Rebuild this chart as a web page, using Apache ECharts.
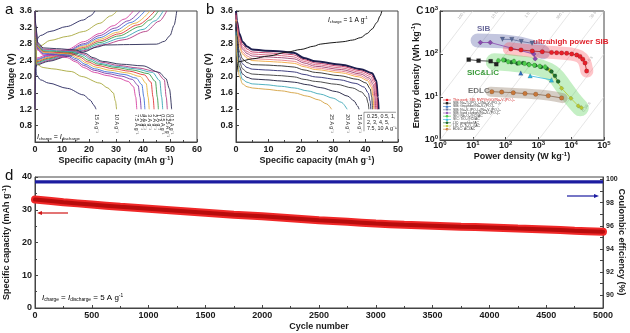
<!DOCTYPE html>
<html><head><meta charset="utf-8">
<script src="https://cdn.jsdelivr.net/npm/echarts@6/dist/echarts.min.js"></script>
<style>html,body{margin:0;padding:0;background:#fff}#main{width:630px;height:333px}</style>
</head><body><div id="main"></div><script>
// ---------- panel a: rate capability, I_charge = I_discharge ----------
const ratesA = ['15', '10', '7.5', '5', '4', '3', '2', '1', '0.5', '0.25', '0.1'];
const colorsA = ['#26265e', '#a8a83c', '#d63fa0', '#7b3aa8', '#3f6fd6', '#e6b43c', '#e03838', '#3c9c4a', '#35a5b5', '#b23a82', '#2a2a55'];
const dischargeA = [
  [[0,3.6],[0.2,2.6],[0.5,2.04],[2,1.92],[5,1.84],[12,1.71],[18,1.55],[20.5,1.42],[21.8,1.3],[22.6,1.2]],
  [[0,3.6],[0.2,2.8],[0.6,2.3],[3,2.22],[6,2.19],[13.6,2.12],[17.3,2.0],[24,1.84],[27,1.72],[29,1.6],[29.8,1.4],[30.2,1.2]],
  [[0,3.6],[0.3,3.0],[1,2.65],[3,2.52],[8,2.5],[12,2.46],[15,2.36],[18,2.22],[22,2.1],[27,2.02],[31,1.96],[34.5,1.88],[36.5,1.75],[37.3,1.5],[37.7,1.2]],
  [[0,3.6],[0.3,3.05],[1,2.68],[3,2.55],[8,2.53],[12,2.5],[15,2.4],[18,2.27],[22,2.15],[27,2.07],[32,2.01],[36,1.93],[38.2,1.78],[38.9,1.5],[39.3,1.2]],
  [[0,3.6],[0.3,3.1],[1,2.7],[3,2.57],[8,2.55],[12,2.53],[15.5,2.43],[18.5,2.3],[22,2.19],[27,2.11],[33,2.05],[37.5,1.96],[39.6,1.8],[40.3,1.5],[40.7,1.2]],
  [[0,3.6],[0.3,3.12],[1,2.72],[3,2.59],[8,2.57],[12.5,2.55],[16,2.45],[19,2.33],[22.5,2.23],[28,2.15],[34,2.09],[39,2.0],[41.2,1.83],[41.9,1.5],[42.3,1.2]],
  [[0,3.6],[0.3,3.15],[1,2.74],[3,2.61],[8,2.59],[13,2.57],[16.5,2.48],[19.5,2.36],[23,2.27],[29,2.19],[35,2.13],[40.5,2.04],[43,1.86],[43.7,1.5],[44.1,1.2]],
  [[0,3.6],[0.3,3.18],[1,2.76],[3,2.63],[8,2.61],[13.5,2.59],[17,2.5],[20,2.39],[23.5,2.3],[30,2.22],[36,2.16],[42,2.07],[44.6,1.88],[45.3,1.5],[45.7,1.2]],
  [[0,3.6],[0.3,3.2],[1,2.78],[3,2.65],[8,2.63],[14,2.61],[17.5,2.53],[20.5,2.42],[24,2.32],[30,2.25],[37,2.19],[43.5,2.1],[46.2,1.9],[46.9,1.5],[47.3,1.2]],
  [[0,3.6],[0.3,3.22],[1,2.8],[3,2.67],[8,2.65],[14.5,2.63],[18,2.55],[21,2.44],[24.5,2.35],[31,2.27],[38,2.21],[45,2.12],[47.9,1.92],[48.6,1.5],[49,1.2]],
  [[0,3.6],[0.3,3.25],[1,2.83],[3,2.7],[8,2.68],[15,2.65],[18.5,2.57],[21.5,2.46],[25,2.37],[32,2.3],[40,2.26],[46,2.1],[48.5,1.95],[49.8,1.7],[50.6,1.2]]
];
const chargeA = [
  [[0,1.2],[0.2,2.3],[0.5,2.9],[2,3.0],[5.5,3.1],[11.7,3.22],[17.9,3.38],[20.5,3.48],[22.2,3.6]],
  [[0,1.2],[0.2,2.3],[0.5,2.62],[2,2.75],[5.5,2.88],[12,2.98],[18,3.1],[24,3.3],[28,3.48],[30.4,3.6]],
  [[0,1.2],[0.2,2.3],[0.5,2.45],[5,2.54],[12,2.66],[18,2.85],[24,3.05],[29,3.24],[33,3.4],[36.4,3.6]],
  [[0,1.2],[0.2,2.28],[0.5,2.42],[5,2.51],[12,2.63],[18,2.8],[24,3.0],[29.5,3.18],[34.5,3.36],[38.9,3.6]],
  [[0,1.2],[0.2,2.27],[0.5,2.4],[5,2.49],[12,2.61],[18,2.77],[24,2.95],[30,3.13],[35.5,3.32],[40.7,3.6]],
  [[0,1.2],[0.2,2.26],[0.5,2.38],[5,2.47],[12,2.59],[18,2.74],[24,2.91],[30.5,3.08],[37,3.3],[42.6,3.6]],
  [[0,1.2],[0.2,2.25],[0.5,2.36],[5,2.45],[12,2.57],[18,2.71],[24,2.87],[31,3.04],[38,3.26],[44.4,3.6]],
  [[0,1.2],[0.2,2.24],[0.5,2.34],[5,2.43],[12,2.55],[18,2.68],[24,2.83],[31,2.99],[39,3.22],[42.5,3.38],[45.7,3.6]],
  [[0,1.2],[0.2,2.23],[0.5,2.32],[5,2.41],[12,2.53],[18,2.65],[24,2.79],[32,2.94],[40,3.15],[44.5,3.36],[47.5,3.6]],
  [[0,1.2],[0.2,2.22],[0.5,2.3],[5,2.39],[12,2.51],[18,2.63],[25,2.77],[33,2.9],[41,3.1],[46,3.35],[48.8,3.6]],
  [[0,1.2],[0.2,2.2],[0.5,2.28],[5,2.37],[12,2.49],[18,2.6],[23,2.72],[26,2.77],[35,2.78],[45,2.79],[48,2.86],[50,3.0],[51.5,3.25],[52.5,3.6]]
];

// ---------- panel b: discharge at various rates, charge at 1 A/g ----------
const ratesB = ['0.25', '0.5', '1', '2', '3', '4', '5', '7.5', '10', '15', '20', '25'];
const colorsB = ['#1e1e4e', '#c0305e', '#d8607e', '#a0406e', '#e87a88', '#f0a840', '#2a2a2a', '#2a2a70', '#3a3a3a', '#1c1c3c', '#40a8b8', '#d4a040'];
const dischargeB = [
  [[0,3.6],[0.3,3.35],[1,3.05],[2,2.85],[3.4,2.73],[5,2.66],[9,2.63],[14,2.61],[17.8,2.58],[21,2.45],[24.5,2.37],[32.5,2.29],[38.5,2.18],[42,2.08],[43.3,1.9],[43.8,1.5],[44,1.2]],
  [[0,3.55],[0.3,3.3],[1,2.98],[2,2.78],[3.4,2.67],[5,2.6],[9,2.58],[14,2.56],[17.8,2.53],[21,2.41],[24.5,2.33],[32.5,2.25],[38.5,2.14],[41.8,2.04],[43,1.86],[43.5,1.5],[43.7,1.2]],
  [[0,3.5],[0.3,3.25],[1,2.92],[2,2.72],[3.4,2.61],[5,2.55],[9,2.53],[14,2.51],[17.8,2.48],[21,2.37],[24.5,2.29],[32.5,2.21],[38.5,2.1],[41.5,2.0],[42.7,1.83],[43.2,1.5],[43.4,1.2]],
  [[0,3.45],[0.3,3.2],[1,2.87],[2,2.67],[3.4,2.56],[5,2.5],[9,2.48],[14,2.46],[18,2.43],[21,2.33],[24.5,2.25],[32.5,2.17],[38.5,2.06],[41.2,1.96],[42.4,1.8],[42.9,1.5],[43.1,1.2]],
  [[0,3.4],[0.3,3.15],[1,2.8],[2,2.6],[3.4,2.5],[5,2.44],[9,2.42],[14,2.4],[18,2.37],[21,2.28],[24.5,2.21],[32.5,2.13],[38,2.03],[40.9,1.93],[42.1,1.77],[42.6,1.5],[42.8,1.2]],
  [[0,3.38],[0.3,3.1],[1,2.74],[2,2.55],[3.4,2.45],[5,2.39],[9,2.37],[14,2.35],[18,2.32],[21,2.24],[24.5,2.17],[32.5,2.09],[38,1.99],[40.6,1.9],[41.8,1.74],[42.3,1.5],[42.5,1.2]],
  [[0,3.35],[0.3,3.0],[1,2.62],[2,2.43],[3.4,2.34],[5,2.29],[9,2.28],[14,2.26],[18,2.23],[21,2.16],[24.5,2.1],[32,2.02],[37.5,1.93],[40.2,1.84],[41.4,1.7],[41.9,1.5],[42.1,1.2]],
  [[0,3.3],[0.3,2.9],[1,2.5],[2,2.31],[3.4,2.22],[5,2.18],[9,2.16],[14,2.14],[18,2.11],[21,2.05],[24.5,1.99],[32,1.92],[37,1.83],[39.6,1.74],[40.8,1.6],[41.4,1.4],[41.6,1.2]],
  [[0,3.25],[0.3,2.8],[1,2.38],[2,2.19],[3.4,2.1],[5,2.06],[9,2.04],[14,2.02],[18,1.99],[21,1.93],[24.5,1.88],[31,1.81],[36,1.72],[38.8,1.62],[40.2,1.5],[40.8,1.35],[41,1.2]],
  [[0,3.2],[0.3,2.7],[1,2.25],[2,2.06],[3.4,1.98],[5,1.94],[9,1.92],[14,1.89],[18,1.86],[22,1.8],[26,1.73],[31,1.63],[34.5,1.52],[36.5,1.4],[37.5,1.28],[38,1.2]],
  [[0,3.1],[0.3,2.6],[1,2.15],[2,1.93],[3.4,1.86],[5,1.82],[9,1.8],[14,1.76],[18,1.72],[22,1.65],[26,1.57],[30,1.47],[32.5,1.37],[34.3,1.2]],
  [[0,3.0],[0.3,2.5],[1,2.02],[2,1.82],[3.4,1.75],[5,1.72],[9,1.69],[14,1.65],[18,1.6],[22,1.52],[25.5,1.43],[28,1.33],[29.5,1.2]]
];
const chargeB = [[0,1.2],[0.2,2.1],[0.7,2.36],[5,2.43],[10,2.5],[16,2.6],[20,2.66],[24,2.74],[26,2.79],[29,2.82],[33,2.85],[36,2.89],[38.5,2.95],[40.5,3.05],[42,3.16],[43.5,3.32],[44.5,3.48],[45,3.6]];

// ---------- panel c: Ragone plot ----------
const isoHours = [100, 10, 1, 0.1, 0.01, 0.001, 0.0001];
const isoNames = ['100 h', '10 h', '1 h', '360 s', '36 s', '3.6 s', '0.36 s'];
const ragThisWork = [[145,131],[295,124],[650,117],[1310,113],[2520,109],[3600,107],[5100,106],[7300,104],[10400,100],[14700,95],[18500,88],[22500,76],[26400,62],[29600,40]];
const ragNTP = [[7.5,74],[15,70],[35,68],[52,58]];
const ragGraphiteSIB = [[290,36]];
const ragNVP = [[80,220],[155,218],[300,195],[640,178]];
const ragHardCarbon = [[17,185],[34,185],[720,100],[800,78]];
const ragNb2O5 = [[60,70],[85,73],[120,66],[180,68],[260,62],[380,60],[520,56],[750,55],[1100,52],[1600,50]];
const ragTiO2 = [[560,31],[2500,25]];
const ragGraphiteLIC = [[95,72],[150,64],[230,60],[340,62],[500,58],[800,54],[1200,50],[1800,46],[2500,39],[3200,31],[4000,23]];
const ragLTO = [[2200,42],[5100,16],[9800,9.3],[16500,6.2],[20500,5.6]];
const ragEDLC = [[38,13.3],[76,13],[171,12.6],[390,12],[830,11.6],[2000,10.7],[5100,9.5]];
const bandSIB = [[14,205],[120,190],[600,150],[1400,110]];
const bandRed = [[130,132],[600,118],[3000,108],[10000,100],[18000,88],[25000,68],[30000,40]];
const bandGreen = [[45,66],[300,58],[1200,47],[3000,33],[6000,17],[11000,9],[19000,5.6]];
const bandEDLC = [[35,13.3],[400,12],[2000,10.8],[5500,9.4]];
const legendC = [
  ['This work: SIB: NVP@rGO//Na\u2083V\u2082(PO\u2084)\u2083', '#e8202a', 'circle'],
  ['SIB: Na\u2083Ti\u2082(PO\u2084)\u2083//Na\u2083V\u2082(PO\u2084)\u2083', '#222222', 'rect'],
  ['SIB: Graphite//Na\u2083V\u2082(PO\u2084)\u2083', '#2f6fc0', 'triangle'],
  ['SIB: Na\u2083V\u2082(PO\u2084)\u2083//Na\u2083V\u2082(PO\u2084)\u2083', '#5a6a9a', 'tridown'],
  ['SIB: hard carbon//Na\u2083V\u2082(PO\u2084)\u2083', '#8a4ab0', 'diamond'],
  ['SIC: Nb\u2082O\u2085@C//AC', '#4ccc4c', 'circle'],
  ['SIC: TiO\u2082@C//AC', '#30b8e0', 'triangle'],
  ['LIC: graphite//AC', '#1e6e2e', 'circle'],
  ['LIC: Li\u2084Ti\u2085O\u2081\u2082//AC', '#b8c830', 'diamond'],
  ['EDLC: AC//AC', '#c8783a', 'circle']
];

// ---------- panel d: cycling at 5 A/g ----------
const cycles = [0,250,500,750,1000,1250,1500,1750,2000,2250,2500,2750,3000,3250,3500,3750,4000,4250,4500,4750,5000];
const capacityD = [33.1,32.3,31.6,30.9,30.3,29.7,29.1,28.5,28.0,27.4,26.8,26.3,25.8,25.4,25.1,24.8,24.6,24.3,24.0,23.6,23.3];
const efficiencyD = [99.8,99.8,99.8,99.8,99.8,99.8,99.8,99.8,99.8,99.8,99.8,99.8,99.8,99.8,99.8,99.8,99.8,99.8,99.8,99.8,99.8];

const FONT = '"Liberation Sans", Arial, sans-serif';
const INK = '#1a1a1a';
const supRich = { sup: { fontSize: 6, fontWeight: 'bold', fontFamily: FONT, color: INK, padding: [0, 0, 5, 0] } };
function lab(size) { return { fontFamily: FONT, fontWeight: 'bold', fontSize: size || 9, color: INK }; }
function baseAxis(extra) {
  return Object.assign({
    axisLine: { show: true, onZero: false, lineStyle: { color: '#444', width: 1 } },
    axisTick: { show: true, inside: true, length: 3, lineStyle: { color: '#444' } },
    splitLine: { show: false },
    axisLabel: Object.assign(lab(9), { margin: 3 }),
    nameLocation: 'middle',
    nameTextStyle: Object.assign(lab(9), { rich: supRich })
  }, extra);
}
const logRich = {
  b: { fontFamily: FONT, fontWeight: 'bold', fontSize: 9, color: INK },
  s: { fontFamily: FONT, fontWeight: 'bold', fontSize: 6, color: INK, padding: [0, 0, 6, 0] }
};
const logFmt = v => '{b|10}{s|' + Math.round(Math.log10(v)) + '}';

const grids = [
  { left: 35, top: 11, width: 162, height: 131 },
  { left: 236, top: 11, width: 162, height: 131 },
  { left: 440, top: 11, width: 164, height: 129 },
  { left: 35, top: 177, width: 568, height: 131 }
].map(g => Object.assign({ show: true, borderColor: '#444', borderWidth: 1, backgroundColor: 'transparent', containLabel: false, outerBoundsMode: 'none' }, g));

const xAxes = [
  baseAxis({ gridIndex: 0, type: 'value', min: 0, max: 60, interval: 10, minorTick: { show: true, splitNumber: 2, length: 2 }, name: 'Specific capacity (mAh g{sup|-1})', nameGap: 11 }),
  baseAxis({ gridIndex: 1, type: 'value', min: 0, max: 50, interval: 10, minorTick: { show: true, splitNumber: 2, length: 2 }, name: 'Specific capacity (mAh g{sup|-1})', nameGap: 11 }),
  baseAxis({ gridIndex: 2, type: 'log', logBase: 10, min: 1, max: 100000, axisLabel: { formatter: logFmt, rich: logRich, margin: 0 }, name: 'Power density (W kg{sup|-1})', nameGap: 7 }),
  baseAxis({ gridIndex: 3, type: 'value', min: 0, max: 5000, interval: 500, minorTick: { show: true, splitNumber: 2, length: 2 },
    axisLabel: Object.assign(lab(9), { margin: 3, formatter: v => String(v) }), name: 'Cycle number', nameGap: 14 })
];
const yAxes = [
  baseAxis({ gridIndex: 0, type: 'value', min: 0.4, max: 3.6, interval: 0.4, axisLabel: Object.assign(lab(9), { margin: 3, formatter: v => v < 0.6 ? '' : v.toFixed(1) }), name: 'Voltage (V)', nameGap: 19 }),
  baseAxis({ gridIndex: 1, type: 'value', min: 0.4, max: 3.6, interval: 0.4, axisLabel: Object.assign(lab(9), { margin: 3, formatter: v => v < 0.6 ? '' : v.toFixed(1) }), name: 'Voltage (V)', nameGap: 23 }),
  baseAxis({ gridIndex: 2, type: 'log', logBase: 10, min: 1, max: 1000, axisLabel: { formatter: logFmt, rich: logRich, margin: 2 }, name: 'Energy density (Wh kg{sup|-1})', nameGap: 17 }),
  baseAxis({ gridIndex: 3, type: 'value', min: 0, max: 40, interval: 10, minorTick: { show: true, splitNumber: 2, length: 2 }, name: 'Specific capacity (mAh g{sup|-1})', nameGap: 16 }),
  baseAxis({ gridIndex: 3, type: 'value', position: 'right', min: 88.9, max: 100.22,
    axisTick: { show: true, inside: true, length: 3, customValues: [90, 91, 92, 93, 94, 95, 96, 97, 98, 99, 100], lineStyle: { color: '#444' } },
    axisLabel: Object.assign(lab(7), { margin: 3, customValues: [90, 92, 94, 96, 98, 100] }) })
];

const series = [];
function curve(xi, yi, data, color, width, z) {
  series.push({ type: 'line', xAxisIndex: xi, yAxisIndex: yi, data: data, showSymbol: false, symbol: 'none',
    smooth: 0.3, smoothMonotone: 'x', lineStyle: { color: color, width: width || 0.9 }, z: z || 2, silent: true, clip: true });
}
// panel a
chargeA.forEach((d, i) => curve(0, 0, d, colorsA[i], 0.9));
dischargeA.forEach((d, i) => curve(0, 0, d, colorsA[i], 0.9));
// panel b
dischargeB.forEach((d, i) => curve(1, 1, d, colorsB[i], i === 0 ? 2 : 0.9));
curve(1, 1, chargeB, '#1a1a1a', 1.0, 3);

// panel c: constant-time guide lines
isoHours.forEach(t => {
  const p1 = Math.max(1, 1 / t), p2 = Math.min(1e5, 1000 / t);
  series.push({ type: 'line', xAxisIndex: 2, yAxisIndex: 2, data: [[p1, p1 * t], [p2, p2 * t]], symbol: 'none',
    lineStyle: { color: '#d4d4d4', width: 0.6 }, z: 1, silent: true });
});
function band(data, color, width) {
  series.push({ type: 'line', xAxisIndex: 2, yAxisIndex: 2, data: data, symbol: 'none', smooth: 0.4,
    lineStyle: { color: color, width: width, cap: 'round', join: 'round' }, z: 2, silent: true });
}
band(bandSIB, 'rgba(96,106,170,0.38)', 14);
band(bandRed, 'rgba(255,80,90,0.33)', 13);
band(bandGreen, 'rgba(70,205,70,0.32)', 17);
band(bandEDLC, 'rgba(150,130,110,0.40)', 10);
const triDown = 'path://M0,0 L10,0 L5,9 Z';
const hexagon = 'path://M3,0 L7,0 L10,5 L7,10 L3,10 L0,5 Z';
function rag(data, color, symbol, size, lineColor) {
  series.push({ type: 'line', xAxisIndex: 2, yAxisIndex: 2, data: data, symbol: symbol, symbolSize: size || 4,
    itemStyle: { color: color, borderColor: 'rgba(0,0,0,0.35)', borderWidth: 0.4 },
    lineStyle: { color: lineColor || color, width: 0.8 }, z: 4, silent: true });
}
rag(ragEDLC, '#c8783a', 'circle', 4.5, '#8a6a50');
rag(ragLTO, '#b8c830', 'diamond', 4.5);
rag(ragGraphiteLIC, '#1e6e2e', 'circle', 4);
rag(ragNb2O5, '#4ccc4c', hexagon, 4.5);
rag(ragTiO2, '#30b8e0', 'triangle', 4.5);
rag(ragGraphiteSIB, '#2f6fc0', 'triangle', 4.5);
rag(ragNTP, '#222222', 'rect', 4);
rag(ragNVP, '#5a6a9a', triDown, 4.5);
rag(ragHardCarbon, '#8a4ab0', 'diamond', 5);
rag(ragThisWork, '#e8202a', 'circle', 4.5, '#b01818');

// panel d
series.push({ type: 'line', xAxisIndex: 3, yAxisIndex: 4, data: cycles.map((c, i) => [c, efficiencyD[i]]), symbol: 'none',
  lineStyle: { color: '#1c1ca0', width: 3.2 }, z: 3, silent: true });
series.push({ type: 'line', xAxisIndex: 3, yAxisIndex: 3, data: cycles.map((c, i) => [c, capacityD[i]]), symbol: 'none', smooth: 0.3,
  lineStyle: { color: '#f02828', width: 8, cap: 'round' }, z: 3, silent: true });
series.push({ type: 'line', xAxisIndex: 3, yAxisIndex: 3, data: cycles.map((c, i) => [c, capacityD[i]]), symbol: 'none', smooth: 0.3,
  lineStyle: { color: '#b80c0c', width: 4, cap: 'round' }, z: 4, silent: true });

const chart = echarts.init(document.getElementById('main'), null, { renderer: 'canvas' });
chart.setOption({ animation: false, backgroundColor: '#fff', grid: grids, xAxis: xAxes, yAxis: yAxes, series: series });

// ---------- annotations ----------
const px = (g, p) => chart.convertToPixel({ gridIndex: g }, p);
const subRich = (size) => ({
  i: { fontFamily: FONT, fontStyle: 'italic', fontSize: size, color: INK },
  sub: { fontFamily: FONT, fontSize: size * 0.6, color: INK, padding: [size * 0.45, 0, 0, 0] },
  sup: { fontFamily: FONT, fontSize: size * 0.6, color: INK, padding: [0, 0, size * 0.5, 0] },
  n: { fontFamily: FONT, fontSize: size, color: INK }
});
const g = [];
[['a', 5, 2], ['b', 206, 2], ['c', 416, 2], ['d', 5, 168]].forEach(([t, x, y]) => {
  g.push({ type: 'text', left: x, top: y, style: { text: t, font: '15px "Liberation Sans", Arial, sans-serif', fill: '#111' } });
});
// right-hand axis title of panel d, reading top to bottom
g.push({ type: 'text', x: 621, y: 242, rotation: -Math.PI / 2,
  style: { text: 'Coulombic efficiency (%)', fontFamily: FONT, fontWeight: 'bold', fontSize: 9, fill: INK, align: 'center', verticalAlign: 'middle' } });
function rotLabel(gi, xv, yv, text, dy) {
  const p = px(gi, [xv, yv]);
  g.push({ type: 'text', x: p[0], y: p[1] + dy, rotation: -Math.PI / 2,
    style: { text: text, fontFamily: FONT, fontSize: 5.2, fill: '#222', align: 'left', verticalAlign: 'middle' } });
}
dischargeA.forEach((d, i) => rotLabel(0, d[d.length - 1][0], 1.2, ratesA[i] + ' A g\u207B\u00B9', 5));
[9, 10, 11].forEach(i => { const d = dischargeB[i]; rotLabel(1, d[d.length - 1][0], 1.2, ratesB[i] + ' A g\u207B\u00B9', 5); });
// bracketed rate list in panel b
(function () {
  const p = px(1, [39.5, 1.2]);
  g.push({ type: 'line', shape: { x1: p[0], y1: p[1] + 3, x2: p[0] + 32, y2: p[1] + 3 }, style: { stroke: '#555', lineWidth: 0.6 } });
  g.push({ type: 'line', shape: { x1: p[0], y1: p[1] + 3, x2: p[0], y2: p[1] + 22 }, style: { stroke: '#555', lineWidth: 0.6 } });
  g.push({ type: 'text', x: p[0] + 3, y: p[1] + 4, style: { text: '0.25, 0.5, 1,\n2, 3, 4, 5,\n7.5, 10 A g\u207B\u00B9',
    fontFamily: FONT, fontSize: 5.4, lineHeight: 6, fill: '#222', align: 'left', verticalAlign: 'top' } });
})();
g.push({ type: 'text', x: 37, y: 137, style: { text: '{i|I}{sub|charge}{n| = }{i|I}{sub|discharge}', rich: subRich(7), verticalAlign: 'middle' } });
g.push({ type: 'text', x: 328, y: 20, style: { text: '{i|I}{sub|charge}{n| = 1 A g}{sup|-1}', rich: subRich(6.5), verticalAlign: 'middle' } });
g.push({ type: 'text', x: 42, y: 298, style: { text: '{i|I}{sub|charge}{n| = }{i|I}{sub|discharge}{n| = 5 A g}{sup|-1}', rich: subRich(8), verticalAlign: 'middle' } });
// arrows pointing to the matching axes in panel d
function arrow(x1, x2, y, color) {
  const dir = Math.sign(x2 - x1);
  g.push({ type: 'line', shape: { x1: x1, y1: y, x2: x2 - dir * 3, y2: y }, style: { stroke: color, lineWidth: 1.2 } });
  g.push({ type: 'polygon', shape: { points: [[x2, y], [x2 - dir * 5, y - 2], [x2 - dir * 5, y + 2]] }, style: { fill: color } });
}
arrow(68, 37, 213, '#d01818');
arrow(567, 599, 196, '#1c1ca0');
// panel c text
[['SIB', 477, 29, '#6a6a9a', 8], ['ultrahigh power SIB', 533, 42, '#e0202a', 8], ['SIC&LIC', 467, 73, '#3a9a3a', 8], ['EDLC', 468, 91, '#707070', 8]].forEach(([t, x, y, c, s]) => {
  g.push({ type: 'text', x: x, y: y, style: { text: t, fontFamily: FONT, fontWeight: 'bold', fontSize: s, fill: c, verticalAlign: 'middle' } });
});
// labels of the constant-time lines
isoHours.forEach((t, i) => {
  let p;
  if (i < 5) { const E = 807; p = px(2, [E / t, E]); p[0] -= 8; }
  else { const E = i === 5 ? 72 : 5.85; p = px(2, [E / t, E]); p[0] -= 10; }
  g.push({ type: 'text', x: p[0], y: p[1], rotation: 0.92, style: { text: isoNames[i], fontFamily: FONT, fontSize: 4.2, fill: '#aaa', align: 'center', verticalAlign: 'middle' } });
});
// legend of panel c
legendC.forEach(([t, c, shape], i) => {
  const y = 100 + i * 3.25, x = 443;
  g.push({ type: 'line', shape: { x1: x, y1: y, x2: x + 8, y2: y }, style: { stroke: c, lineWidth: 0.6 } });
  const m = { fill: c };
  if (shape === 'circle') g.push({ type: 'circle', shape: { cx: x + 4, cy: y, r: 1.3 }, style: m });
  else if (shape === 'rect') g.push({ type: 'rect', shape: { x: x + 2.8, y: y - 1.2, width: 2.4, height: 2.4 }, style: m });
  else if (shape === 'triangle') g.push({ type: 'polygon', shape: { points: [[x + 4, y - 1.4], [x + 5.4, y + 1.2], [x + 2.6, y + 1.2]] }, style: m });
  else if (shape === 'tridown') g.push({ type: 'polygon', shape: { points: [[x + 4, y + 1.4], [x + 5.4, y - 1.2], [x + 2.6, y - 1.2]] }, style: m });
  else g.push({ type: 'polygon', shape: { points: [[x + 4, y - 1.5], [x + 5.3, y], [x + 4, y + 1.5], [x + 2.7, y]] }, style: m });
  g.push({ type: 'text', x: x + 10, y: y, style: { text: t, fontFamily: FONT, fontSize: 3.4, fill: i === 0 ? '#d02020' : '#333', verticalAlign: 'middle' } });
});
chart.setOption({ graphic: g });
</script></body></html>
